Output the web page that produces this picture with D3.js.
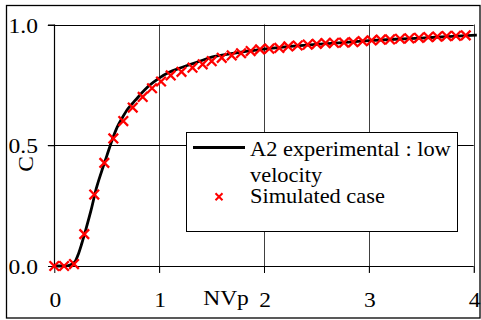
<!DOCTYPE html>
<html><head><meta charset="utf-8">
<script src="https://cdn.jsdelivr.net/npm/d3@7"></script>
<style>body{margin:0;background:#fff}svg{display:block}</style>
</head><body>
<svg id="c" width="481" height="320" font-family="Liberation Serif, Times New Roman, serif"></svg>
<script>
// Data
const xTicks = [0, 1, 2, 3, 4];
const yTicks = [0.0, 0.5, 1.0];
const yTickLabels = ["0.0", "0.5", "1.0"];
const legendLabels = [["A2 experimental : low", "velocity"], ["Simulated case"]];
const expNVp = [0,0.1,0.15,0.2,0.23,0.26,0.3,0.35,0.4,0.45,0.5,0.55,0.6,0.65,0.7,0.75,0.8,0.9,1.0,1.1,1.2,1.3,1.4,1.5,1.6,1.8,2.0,2.25,2.5,2.75,3.0,3.25,3.5,3.75,4.03];
const expC   = [0,0,0.004,0.02,0.05,0.09,0.15,0.23,0.32,0.39,0.455,0.52,0.575,0.615,0.65,0.675,0.70,0.745,0.778,0.803,0.82,0.835,0.85,0.865,0.873,0.887,0.898,0.909,0.918,0.925,0.933,0.939,0.944,0.95,0.956];
const simNVp = [0,0.093,0.188,0.286,0.381,0.477,0.563,0.658,0.748,0.843,0.932,1.018,1.110,1.213,1.318,1.415,1.501,1.597,1.692,1.781,1.873,1.962,2.051,2.146,2.232,2.321,2.417,2.503,2.587,2.668,2.763,2.852,2.941,3.027,3.113,3.202,3.297,3.386,3.478,3.567,3.653,3.742,3.831,3.924];
const simC   = [0,0,0.008,0.132,0.296,0.427,0.528,0.600,0.656,0.700,0.736,0.764,0.789,0.804,0.821,0.835,0.848,0.862,0.872,0.881,0.890,0.897,0.900,0.903,0.909,0.913,0.917,0.920,0.923,0.924,0.925,0.927,0.931,0.934,0.937,0.938,0.941,0.943,0.945,0.948,0.950,0.952,0.953,0.955];

const svg = d3.select("#c");
const L = 54.3, R = 473.7, T = 24.5, B = 266;
const x = d3.scaleLinear().domain([0, 4]).range([L, R]);
const y = d3.scaleLinear().domain([0, 1]).range([B, T]);
const SX = 1.12;

// outer border
svg.append("rect").attr("x", 6.5).attr("y", 5.5).attr("width", 473.5).attr("height", 312.5)
  .attr("fill", "none").attr("stroke", "#000").attr("stroke-width", 1.3);

// vertical grid lines (1,2,3,4) extending to tick length
svg.append("g").selectAll("line").data(xTicks.slice(1)).join("line")
  .attr("x1", d => Math.round(x(d)) + 0.5).attr("x2", d => Math.round(x(d)) + 0.5)
  .attr("y1", T).attr("y2", B + 6.5).attr("stroke", "#404040").attr("stroke-width", 1);
// horizontal grid lines (0.5, 1.0) extending left as ticks
svg.append("g").selectAll("line").data(yTicks.slice(1)).join("line")
  .attr("x1", L - 6.5).attr("x2", R).attr("y1", d => Math.round(y(d)) + 0.5).attr("y2", d => Math.round(y(d)) + 0.5)
  .attr("stroke", "#000").attr("stroke-width", 1);

// axes
const xAxis = svg.append("g").attr("transform", `translate(0,${Math.round(B) + 0.5})`)
  .call(d3.axisBottom(x).tickValues(xTicks).tickSize(6.5).tickFormat(""));
const yAxis = svg.append("g").attr("transform", `translate(${Math.round(L) + 0.5},0)`)
  .call(d3.axisLeft(y).tickValues(yTicks).tickSize(6.5).tickFormat(""));
[xAxis, yAxis].forEach(g => { g.select(".domain").attr("stroke", "#000").attr("stroke-width", 1.2); g.selectAll(".tick line").attr("stroke", "#000"); });
xAxis.select(".domain").attr("d", `M${L},0H${R}`);
yAxis.select(".domain").attr("d", `M0,${B}V${T}`);

function txt(s, px, py, size, anchor, extra) {
  return svg.append("text").attr("transform", `translate(${px},${py}) ${extra || ""} scale(${SX},1)`)
    .attr("font-family", "Liberation Serif, Times New Roman, serif")
    .attr("font-size", size).attr("fill", "#000").attr("text-anchor", anchor).text(s);
}
// tick labels
xTicks.forEach(d => txt(String(d), x(d) + 1, 306.5, 21, "middle"));
yTicks.forEach((d, i) => txt(yTickLabels[i], 38, y(d) + 8, 21, "end"));
// axis titles
txt("NVp", 226, 305, 21, "middle");
txt("C", 33, 164, 21, "middle", "rotate(-90)");

// experimental line
svg.append("path").datum(expNVp.map((v, i) => [v, expC[i]]))
  .attr("d", d3.line().x(d => x(d[0])).y(d => y(d[1])).curve(d3.curveMonotoneX))
  .attr("fill", "none").attr("stroke", "#000").attr("stroke-width", 2.8);

// simulated crosses
const cross = s => `M${-s},${-s}L${s},${s}M${-s},${s}L${s},${-s}`;
svg.append("g").selectAll("path").data(simNVp.map((v, i) => [v, simC[i]])).join("path")
  .attr("transform", d => `translate(${x(d[0])},${y(d[1])})`)
  .attr("d", cross(4.8)).attr("stroke", "#ff0000").attr("stroke-width", 2.3).attr("fill", "none");

// legend
svg.append("rect").attr("x", 186.5).attr("y", 132.5).attr("width", 271).attr("height", 99)
  .attr("fill", "#fff").attr("stroke", "#000").attr("stroke-width", 1);
svg.append("line").attr("x1", 193).attr("x2", 245).attr("y1", 147.5).attr("y2", 147.5)
  .attr("stroke", "#000").attr("stroke-width", 2.8);
txt(legendLabels[0][0], 250, 155.7, 20, "start");
txt(legendLabels[0][1], 250, 182.3, 20, "start");
svg.append("path").attr("transform", "translate(219,196.7)").attr("d", cross(3.5))
  .attr("stroke", "#ff0000").attr("stroke-width", 2).attr("fill", "none");
txt(legendLabels[1][0], 250, 203.3, 20, "start");
</script>
</body></html>
